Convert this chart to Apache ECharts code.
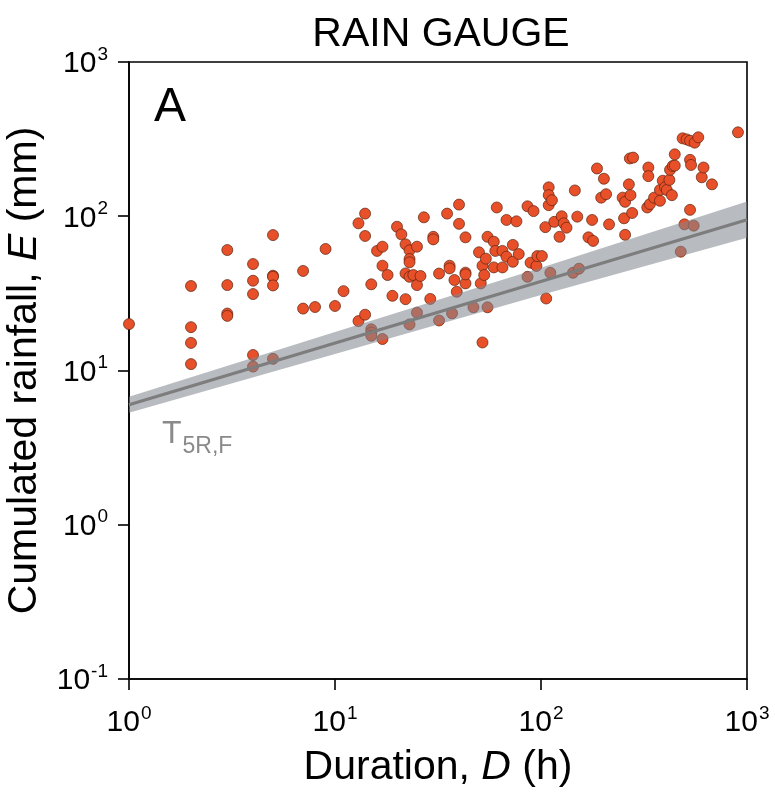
<!DOCTYPE html>
<html>
<head>
<meta charset="utf-8">
<script src="https://cdn.jsdelivr.net/npm/echarts@6/dist/echarts.min.js"></script>
<style>
html,body{margin:0;padding:0;background:#fff;}
#chart{width:775px;height:793px;}
</style>
</head>
<body>
<div id="chart"></div>
<script>
// Rainfall events: duration D (h) and cumulated rainfall E (mm)
const durations = [
  1,
  2, 2, 2, 2,
  3, 3, 3, 3,
  4, 4, 4, 4, 4,
  5, 5, 5, 5, 5,
  7, 7, 8, 9, 10, 11,
  13, 13, 14, 14, 14,
  15, 15, 15, 15, 16,
  17, 17, 17, 18, 19, 20, 21,
  22, 22, 22,
  23, 23, 23, 23, 23,
  24, 25, 25, 25, 26, 27, 29,
  30, 30, 32, 32, 35, 36, 36,
  37, 38, 39, 40, 40,
  43, 43, 43, 43, 47, 50, 51,
  52, 52, 53, 54, 55, 55,
  59, 59, 60, 61, 65, 65,
  68, 68, 73, 73, 76, 78,
  86, 86, 89, 92, 95, 96, 101,
  105, 106, 109, 109, 109, 111,
  113, 116, 123, 126, 129, 133,
  143, 146, 150, 153, 170, 177,
  179, 187, 196, 202, 207, 214,
  249, 253, 256, 256, 267, 270,
  272, 277, 280, 328, 332, 332,
  338, 354, 378, 378, 390, 400,
  408, 420, 423, 432, 436, 446,
  446, 477, 487, 497, 509, 529,
  529, 529, 535, 551, 557, 580,
  603, 615, 676, 904
];
const rainfall = [
  20,
  35.3, 19.1, 15.1, 11.0,
  60.4, 35.8, 23.4, 22.6,
  49, 38.2, 31.3, 12.6, 10.6,
  75.5, 41.2, 40.5, 35.6, 11.9,
  44.2, 25.2, 25.8, 61.4, 26.2, 32.7,
  20.9, 90, 23.0, 104, 74.5,
  36.2, 18.5, 17.6, 16.8, 59.6,
  16.0, 63.5, 47.8, 41.6, 30.5, 85.5, 76.3,
  65.8, 42.6, 29,
  60.1, 52.8, 50.3, 40.5, 19.9,
  41.6, 63.5, 35.8, 23.7, 41, 98.4, 29.1,
  73.6, 70.8, 42.5, 21.1, 104, 47.8, 45.9,
  23.5, 38.6, 32.4, 89.3, 119,
  43.1, 36.7, 73, 42, 25.7, 58.4, 36.7,
  15.2, 47.8, 41.6, 53.1, 73.6, 25.7,
  68.4, 46.6, 59.6, 114, 46.6, 59.6,
  94.6, 54.7, 65.2, 50.7, 92.7, 56.9,
  116, 40.5, 50, 108, 47.6, 55.2, 55.2,
  85, 29.3, 154, 137, 118, 43,
  127, 92, 73.6, 100, 90, 84.3,
  43, 147, 99.4, 45.7, 73, 94.6,
  69.2, 204, 132, 175, 139, 88.6,
  132, 97, 124, 75.8, 161, 237,
  137, 105, 240, 114, 207, 182,
  120, 132, 148, 126, 170, 154,
  148, 172, 200, 137, 212, 213,
  252, 58.9, 320, 88.6, 315, 309,
  232, 110, 215, 86.9, 300, 325,
  179, 207, 161, 350
];

// Threshold line T5R,F and its uncertainty band
const fitD = [1, 1000];
const fitE = [6.0, 95];
const bandD = [1, 10, 100, 1000];
const bandLow = [5.32, 12.8, 30.9, 72.6];
const bandHigh = [6.76, 17.75, 46.4, 124.5];

// Axis ranges / tick labels
const xTicks = [1, 10, 100, 1000];
const yTicks = [0.1, 1, 10, 100, 1000];

const FONT = 'Liberation Sans, Arial, sans-serif';

const scatterData = durations.map((d, i) => [d, rainfall[i]]);
const fitData = fitD.map((d, i) => [d, fitE[i]]);

function expLabel(v) {
  const e = Math.round(Math.log10(v));
  return '{b|10}{s|' + e + '}';
}
const tickRich = {
  b: {fontSize: 30, fontFamily: FONT, color: '#000', lineHeight: 34, verticalAlign: 'bottom'},
  s: {fontSize: 19, fontFamily: FONT, color: '#000', lineHeight: 34, verticalAlign: 'top', padding: [0, 0, 0, 1]}
};

const chart = echarts.init(document.getElementById('chart'), null, {renderer: 'canvas'});
chart.setOption({
  backgroundColor: '#fff',
  animation: false,
  title: {
    text: 'RAIN GAUGE',
    left: 436,
    top: 9,
    textAlign: 'center',
    textStyle: {fontSize: 41, fontWeight: 'normal', fontFamily: FONT, color: '#000'}
  },
  grid: {
    left: 129, right: 28, top: 62, bottom: 114,
    outerBoundsMode: 'none',
    containLabel: false,
    show: true, borderColor: '#000', borderWidth: 1.6, backgroundColor: 'transparent'
  },
  xAxis: {
    type: 'log', logBase: 10, min: xTicks[0], max: xTicks[xTicks.length - 1],
    splitNumber: 3,
    axisLine: {show: true, lineStyle: {color: '#000', width: 1.6}},
    axisTick: {show: true, length: 11, lineStyle: {color: '#000', width: 1.6}},
    minorTick: {show: false},
    splitLine: {show: false},
    axisLabel: {formatter: expLabel, rich: tickRich, margin: 25, showMinLabel: true, showMaxLabel: true},
    name: 'Duration, {i|D} (h)',
    nameLocation: 'middle',
    nameGap: 68,
    nameTextStyle: {
      fontSize: 41, fontFamily: FONT, color: '#000',
      rich: {i: {fontSize: 41, fontFamily: FONT, fontStyle: 'italic', color: '#000'}}
    }
  },
  yAxis: {
    type: 'log', logBase: 10, min: yTicks[0], max: yTicks[yTicks.length - 1],
    splitNumber: 4,
    axisLine: {show: true, lineStyle: {color: '#000', width: 1.6}},
    axisTick: {show: true, length: 11, lineStyle: {color: '#000', width: 1.6}},
    minorTick: {show: false},
    splitLine: {show: false},
    axisLabel: {formatter: expLabel, rich: tickRich, margin: 21, showMinLabel: true, showMaxLabel: true},
    name: 'Cumulated rainfall, {i|E} (mm)',
    nameLocation: 'middle',
    nameGap: 84,
    nameRotate: 90,
    nameTextStyle: {
      fontSize: 41, fontFamily: FONT, color: '#000',
      rich: {i: {fontSize: 41, fontFamily: FONT, fontStyle: 'italic', color: '#000'}}
    }
  },
  graphic: [
    {type: 'text', left: 154, top: 84, style: {text: 'A', fontSize: 48, fontFamily: FONT, fill: '#000'}},
    {type: 'text', left: 162, top: 418, style: {
      text: '{t|T}{s|5R,F}', fill: '#8a8a8a',
      rich: {
        t: {fontSize: 32, fontFamily: FONT, fill: '#8a8a8a', lineHeight: 36, verticalAlign: 'bottom'},
        s: {fontSize: 23, fontFamily: FONT, fill: '#8a8a8a', lineHeight: 36, verticalAlign: 'bottom', padding: [0, 0, -8, 1]}
      }
    }}
  ],
  series: [
    {
      type: 'scatter',
      data: scatterData,
      symbol: 'circle',
      symbolSize: 11,
      itemStyle: {color: '#e8502a', borderColor: '#5a2410', borderWidth: 0.7, opacity: 1},
      z: 2
    },
    {
      type: 'custom',
      data: [0],
      z: 3,
      clip: true,
      renderItem: function (params, api) {
        const pts = [];
        for (let i = 0; i < bandD.length; i++) pts.push(api.coord([bandD[i], bandHigh[i]]));
        for (let i = bandD.length - 1; i >= 0; i--) pts.push(api.coord([bandD[i], bandLow[i]]));
        return {
          type: 'polygon',
          shape: {points: pts},
          style: {fill: 'rgba(128,133,143,0.56)', stroke: null}
        };
      }
    },
    {
      type: 'line',
      data: fitData,
      symbol: 'none',
      lineStyle: {color: '#7d7d7d', width: 3.2},
      z: 4
    }
  ]
});
</script>
</body>
</html>
